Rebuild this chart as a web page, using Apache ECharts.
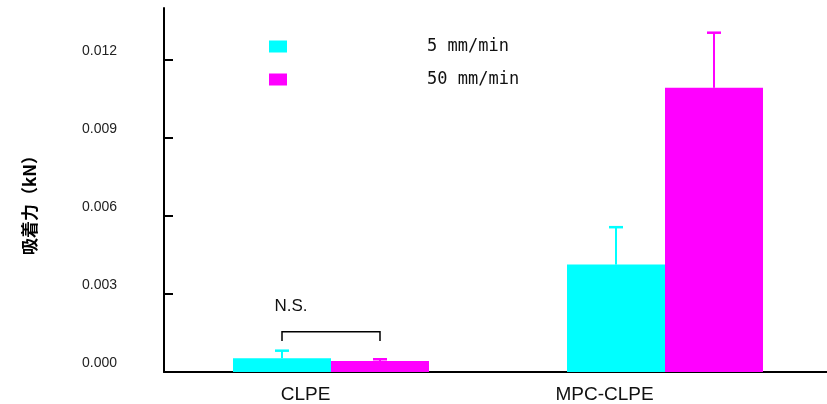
<!DOCTYPE html>
<html>
<head>
<meta charset="utf-8">
<script src="https://cdn.jsdelivr.net/npm/echarts@6/dist/echarts.min.js"></script>
<style>
  html, body { margin: 0; padding: 0; background: #fff; }
  #chart { width: 827px; height: 404px; }
</style>
</head>
<body>
<div id="chart"></div>
<script>
// data
const categories = ['CLPE', 'MPC-CLPE'];
const seriesNames = ['5 mm/min', '50 mm/min'];
const slowMean = [0.00053, 0.00413];
const slowErr = [0.00082, 0.00557];   // top of error bar
const fastMean = [0.00042, 0.01093];
const fastErr = [0.00049, 0.01305];
const yTicks = [0, 0.003, 0.006, 0.009, 0.012];
const nsBracket = [[0, 0.00155, 0.00119, 0.00254]]; // cat, bracket y, leg end, text y

const BAR_FRAC = 0.2934;
const colors = ['#00ffff', '#ff00ff'];

const chart = echarts.init(document.getElementById('chart'));

function errRender(side, color) {
  return function (params, api) {
    const band = api.size([1, 0])[0];
    const bw = band * BAR_FRAC;
    const c = api.coord([api.value(0), api.value(1)]);
    const t = api.coord([api.value(0), api.value(2)]);
    const x = c[0] + side * bw / 2;
    return {
      type: 'group',
      children: [
        { type: 'line', shape: { x1: x, y1: c[1], x2: x, y2: t[1] }, style: { stroke: color, lineWidth: 2 } },
        { type: 'line', shape: { x1: x - 7, y1: t[1], x2: x + 7, y2: t[1] }, style: { stroke: color, lineWidth: 2.5 } }
      ]
    };
  };
}

chart.setOption({
  animation: false,
  grid: { left: 164, width: 668, top: 8, bottom: 32, outerBoundsMode: 'none', containLabel: false },
  legend: {
    data: seriesNames,
    orient: 'vertical',
    left: 264,
    top: 33,
    itemWidth: 18,
    itemHeight: 12,
    itemGap: 16,
    icon: 'rect',
    formatter: (n) => '{t|' + n + '}',
    textStyle: {
      rich: {
        t: { fontFamily: 'DejaVu Sans Mono', fontSize: 17, color: '#111', lineHeight: 20, padding: [0, 0, 0, 135] }
      }
    }
  },
  xAxis: {
    type: 'category',
    data: categories,
    axisLine: { lineStyle: { color: '#000', width: 2 } },
    axisTick: { inside: true, length: 5, lineStyle: { color: '#000', width: 2 } },
    axisLabel: {
      margin: 13,
      formatter: (v, i) => '{c' + i + '|' + v + '}',
      rich: {
        c0: { fontFamily: 'Liberation Sans', fontSize: 19, color: '#111', padding: [0, 51, 0, 0] },
        c1: { fontFamily: 'Liberation Sans', fontSize: 19, color: '#111', padding: [0, 121, 0, 0] }
      }
    }
  },
  yAxis: {
    type: 'value',
    min: 0,
    max: 0.014,
    name: '吸着力（kN）',
    nameLocation: 'middle',
    nameRotate: 90,
    nameGap: 126,
    nameTextStyle: {
      fontFamily: 'Noto Sans CJK JP',
      fontWeight: 'bold',
      fontSize: 17,
      color: '#000',
      padding: [0, 22, 0, 0]
    },
    splitLine: { show: false },
    axisLine: { show: true, lineStyle: { color: '#000', width: 2 } },
    axisTick: { show: true, inside: true, length: 9, customValues: yTicks, lineStyle: { color: '#000', width: 2 } },
    axisLabel: {
      customValues: yTicks,
      formatter: (v) => v.toFixed(3),
      margin: 47,
      fontFamily: 'Liberation Sans',
      fontSize: 14,
      color: '#222',
      verticalAlign: 'bottom',
      padding: [0, 0, 2, 0]
    }
  },
  series: [
    {
      name: seriesNames[0], type: 'bar', data: slowMean, barWidth: (BAR_FRAC * 100) + '%', barGap: '0%',
      itemStyle: { color: colors[0] }
    },
    {
      name: seriesNames[1], type: 'bar', data: fastMean, barWidth: (BAR_FRAC * 100) + '%', barGap: '0%',
      itemStyle: { color: colors[1] }
    },
    {
      type: 'custom', z: 5,
      data: categories.map((c, i) => [i, slowMean[i], slowErr[i]]),
      renderItem: errRender(-1, colors[0])
    },
    {
      type: 'custom', z: 5,
      data: categories.map((c, i) => [i, fastMean[i], fastErr[i]]),
      renderItem: errRender(1, colors[1])
    },
    {
      type: 'custom', z: 6,
      data: nsBracket,
      renderItem: function (params, api) {
        const band = api.size([1, 0])[0];
        const bw = band * BAR_FRAC;
        const top = api.coord([api.value(0), api.value(1)]);
        const leg = api.coord([api.value(0), api.value(2)]);
        const txt = api.coord([api.value(0), api.value(3)]);
        const x1 = top[0] - bw / 2, x2 = top[0] + bw / 2;
        return {
          type: 'group',
          children: [
            {
              type: 'polyline',
              shape: { points: [[x1, leg[1]], [x1, top[1]], [x2, top[1]], [x2, leg[1]]] },
              style: { stroke: '#000', lineWidth: 1.5, fill: null }
            },
            {
              type: 'text',
              style: {
                text: 'N.S.', x: x1 + 9, y: txt[1], align: 'center', verticalAlign: 'middle',
                fontFamily: 'Liberation Sans', fontSize: 17, fill: '#111'
              }
            }
          ]
        };
      }
    }
  ]
});
</script>
</body>
</html>
